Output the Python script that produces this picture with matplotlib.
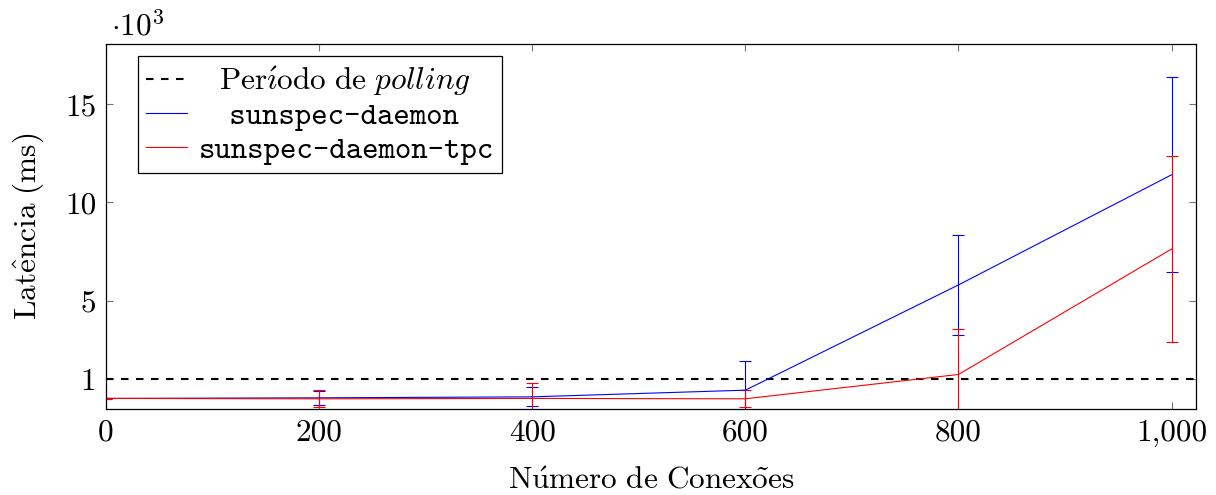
import numpy as np
import matplotlib
matplotlib.use("Agg")
import matplotlib.pyplot as plt
from matplotlib.ticker import FuncFormatter

# dados (latência em ms)
conexoes = [0, 200, 400, 600, 800, 1000]
daemon_media = [20, 50, 100, 440, 5800, 11410]
daemon_erro = [10, 370, 480, 1490, 2550, 4960]
tpc_media = [20, 0, 20, 0, 1240, 7630]
tpc_erro = [10, 430, 760, 440, 2330, 4730]
periodo_polling = 1000

y_ticks = [1000, 5000, 10000, 15000]
x_ticks = [0, 200, 400, 600, 800, 1000]

fs = 22.5
plt.rcParams['mathtext.fontset'] = 'cm'
plt.rcParams['font.family'] = ['cmr10', 'DejaVu Serif']
plt.rcParams['axes.formatter.use_mathtext'] = True
plt.rcParams['font.size'] = fs

fig = plt.figure(figsize=(12.16, 4.95), dpi=100)
ax = fig.add_axes([0.0872, 0.1737, 0.8964, 0.7373])

h_poll = ax.axhline(periodo_polling, color='black', lw=1.5, ls=(0, (3.6, 3.6)))
eb1 = ax.errorbar(conexoes, daemon_media, yerr=daemon_erro, color='blue', lw=0.8,
                  elinewidth=0.8, capsize=4, capthick=0.8)
eb2 = ax.errorbar(conexoes, tpc_media, yerr=tpc_erro, color='red', lw=0.8,
                  elinewidth=0.8, capsize=4, capthick=0.8)

ax.set_xlim(0, 1023)
ax.set_ylim(-520, 18070)
ax.set_xticks(x_ticks)
ax.set_yticks(y_ticks)
ax.xaxis.set_major_formatter(FuncFormatter(lambda v, p: f"{int(v):,}"))
ax.yaxis.set_major_formatter(FuncFormatter(lambda v, p: f"{int(v/1000)}"))
ax.tick_params(direction='in', top=True, right=True, length=5, width=0.8,
               color='0.45', labelsize=fs, pad=7)
for s in ax.spines.values():
    s.set_linewidth(0.9)

ax.text(0.005, 1.022, r'$\cdot 10^{3}$', transform=ax.transAxes, fontsize=fs,
        va='baseline', ha='left')

ax.set_xlabel(r'$\mathrm{N\acute{u}mero\ de\ Conex\tilde{o}es}$', fontsize=fs, labelpad=14)
ax.set_ylabel(r'$\mathrm{Lat\hat{e}ncia\ (ms)}$', fontsize=fs, labelpad=14)

labels = [r'$\enspace\;\mathrm{Per\acute{\imath}odo\ de\ }\mathit{polling}$',
          '\u2003sunspec-daemon', 'sunspec-daemon-tpc']
leg = ax.legend([h_poll, eb1[0], eb2[0]], labels, loc='upper left',
                bbox_to_anchor=(0.0294, 0.967), borderaxespad=0, fancybox=False,
                edgecolor='black', framealpha=1, handlelength=1.3,
                handletextpad=0.38, borderpad=0.25, labelspacing=0.15)
leg.get_frame().set_linewidth(0.9)
for t in leg.get_texts()[1:]:
    t.set_fontfamily(['cmtt10', 'DejaVu Sans'])

fig.savefig("out.png", dpi=100)
